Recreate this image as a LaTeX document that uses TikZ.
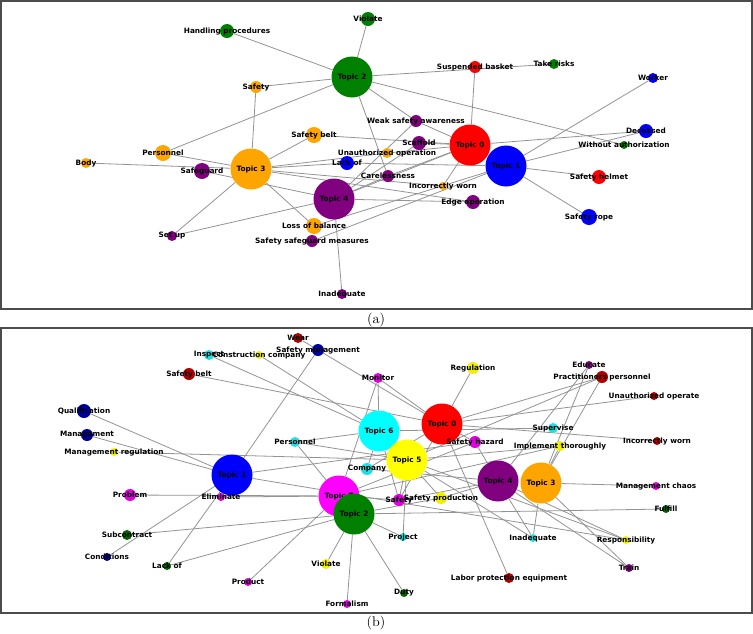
\documentclass[tikz,border=0pt]{standalone}
\usepackage{fontspec}
\setsansfont{DejaVu Sans}
\usetikzlibrary{backgrounds}
\definecolor{tred}{HTML}{FF0000}
\definecolor{tblue}{HTML}{0000FF}
\definecolor{tgreen}{HTML}{008000}
\definecolor{torange}{HTML}{FFA500}
\definecolor{tpurple}{HTML}{800080}
\definecolor{tyellow}{HTML}{FFFF00}
\definecolor{tcyan}{HTML}{00FFFF}
\definecolor{tmag}{HTML}{FF00FF}
\definecolor{dred}{HTML}{B00000}
\definecolor{dblue}{HTML}{0000A0}
\definecolor{dgreen}{HTML}{006400}
\definecolor{dmag}{HTML}{E000E0}
\definecolor{dcyan}{HTML}{20E0E0}
\definecolor{dyellow}{HTML}{F0F000}
\begin{document}
\begin{tikzpicture}[x=0.75pt, y=-0.75pt, every node/.style={circle, inner sep=0pt}, every label/.style={font=\sffamily\bfseries\fontsize{5.5}{6}\selectfont, text=black}, topic/.style={minimum size=30.75pt}, r4/.style={minimum size=6pt}, r5/.style={minimum size=7.5pt}, r6/.style={minimum size=9pt}, r7/.style={minimum size=10.5pt}, r8/.style={minimum size=12pt}, link/.style={draw=gray!85, line width=0.6pt}, frame/.style={draw=black!70, line width=0.9pt}]

		\useasboundingbox (0,0) rectangle (753,633);

		% panel (a)
		\draw[frame] (1,1) rectangle (752,309);

		\node[topic, fill=tgreen, label=center:Topic 2] (a2) at (352,77) {};

		\node[topic, fill=torange, label=center:Topic 3] (a3) at (251,169) {};

		\node[topic, fill=tpurple, label=center:Topic 4] (a4) at (334,199) {};

		\node[topic, fill=tred, label=center:Topic 0] (a0) at (470,145) {};

		\node[topic, fill=tblue, label=center:Topic 1] (a1) at (506,166) {};

		\node[r7, fill=tgreen, label=center:Handling procedures] (a-hp) at (227,31) {};

		\node[r7, fill=tgreen, label=center:Violate] (a-vi) at (368,19) {};

		\node[r6, fill=torange, label=center:Safety] (a-sf) at (256,87) {};

		\node[r8, fill=torange, label=center:Safety belt] (a-sb) at (314,135) {};

		\node[r8, fill=torange, label=center:Personnel] (a-pe) at (163,153) {};

		\node[r6, fill=tred, label=center:Suspended basket] (a-su) at (475,67) {};

		\node[r5, fill=tgreen, label=center:Take risks] (a-tr) at (554,64) {};

		\node[r5, fill=tblue, label=center:Worker] (a-wo) at (653,78) {};

		\node[r6, fill=tpurple, label=center:Weak safety awareness] (a-ws) at (416,121) {};

		\node[r7, fill=tpurple, label=center:Scaffold] (a-sc) at (419,143) {};

		\node[r7, fill=tblue, label=center:Deceased] (a-de) at (646,131) {};

		\node[r4, fill=tgreen, label=center:Without authorization] (a-wa) at (624,145) {};

		\node[r5, fill=torange, label=center:Unauthorized operation] (a-uo) at (387,153) {};

		\node[r5, fill=torange, label=center:Body] (a-bo) at (86,163) {};

		\node[r8, fill=tpurple, label=center:Safeguard] (a-sg) at (202,171) {};

		\node[r7, fill=tblue, label=center:Lack of] (a-lo) at (347,163) {};

		\node[r6, fill=tpurple, label=center:Carelessness] (a-ca) at (388,176) {};

		\node[r4, fill=torange, label=center:Incorrectly worn] (a-iw) at (443,186) {};

		\node[r7, fill=tred, label=center:Safety helmet] (a-sh) at (599,177) {};

		\node[r7, fill=tpurple, label=center:Edge operation] (a-eo) at (473,202) {};

		\node[r8, fill=tblue, label=center:Safety rope] (a-sr) at (589,217) {};

		\node[r8, fill=torange, label=center:Loss of balance] (a-lb) at (314,226) {};

		\node[r5, fill=tpurple, label=center:Set up] (a-se) at (172,236) {};

		\node[r6, fill=tpurple, label=center:Safety safeguard measures] (a-ssm) at (312,241) {};

		\node[r5, fill=tpurple, label=center:Inadequate] (a-in) at (342,294) {};

		\node[font=\fontsize{10.5}{12}\selectfont] (cap-a) at (376,320) {(a)};

		\begin{scope}[on background layer]
		\foreach \w in {a-hp, a-vi, a-sf, a-pe, a-tr, a-wa, a-ws, a-ca}
			\draw[link] (a2) -- (\w);
		\foreach \w in {a-su, a-ws, a-sc, a-de, a-uo, a-sb, a-iw, a-ca, a4}
			\draw[link] (a0) -- (\w);
		\foreach \w in {a-wo, a-de, a-sh, a-sr, a-lo, a-lb, a-ssm}
			\draw[link] (a1) -- (\w);
		\foreach \w in {a-sf, a-pe, a-bo, a-sb, a-uo, a-lo, a-iw, a-eo, a-lb, a-se}
			\draw[link] (a3) -- (\w);
		\foreach \w in {a-sg, a-se, a-ws, a-sc, a-ca, a-eo, a-in}
			\draw[link] (a4) -- (\w);
		\end{scope}

		% panel (b)
		\draw[frame] (1,328) rectangle (752,613);

		\node[topic, fill=tred, label=center:Topic 0] (b0) at (442,424) {};

		\node[topic, fill=tblue, label=center:Topic 1] (b1) at (232,475) {};

		\node[topic, fill=tmag, label=center:Topic 7] (b7) at (339,496) {};

		\node[topic, fill=tgreen, label=center:Topic 2] (b2) at (354,514) {};

		\node[topic, fill=tpurple, label=center:Topic 4] (b4) at (498,481) {};

		\node[topic, fill=torange, label=center:Topic 3] (b3) at (541,483) {};

		\node[topic, fill=tcyan, label=center:Topic 6] (b6) at (379,431) {};

		\node[topic, fill=tyellow, label=center:Topic 5] (b5) at (407,460) {};

		\node[r5, fill=dred, label=center:Wear] (b-we) at (298,338) {};

		\node[r6, fill=dblue, label=center:Safety management] (b-sm) at (318,350) {};

		\node[r5, fill=dcyan, label=center:Inspect] (b-is) at (209,355) {};

		\node[r4, fill=dyellow, label=center:Construction company] (b-cc) at (259,355) {};

		\node[r6, fill=dred, label=center:Safety belt] (b-sb) at (189,374) {};

		\node[r5, fill=dmag, label=center:Monitor] (b-mo) at (378,378) {};

		\node[r6, fill=dyellow, label=center:Regulation] (b-re) at (473,368) {};

		\node[r4, fill=tpurple, label=center:Educate] (b-ed) at (589,365) {};

		\node[r6, fill=dred, label=center:Practitioners personnel] (b-pp) at (602,377) {};

		\node[r4, fill=dred, label=center:Unauthorized operate] (b-ua) at (654,396) {};

		\node[r7, fill=dblue, label=center:Qualification] (b-qu) at (84,411) {};

		\node[r6, fill=dblue, label=center:Management] (b-ma) at (87,435) {};

		\node[r4, fill=dyellow, label=center:Management regulation] (b-mr) at (114,452) {};

		\node[r5, fill=dcyan, label=center:Personnel] (b-pe) at (295,442) {};

		\node[r5, fill=dcyan, label=center:Supervise] (b-sv) at (553,428) {};

		\node[r6, fill=dmag, label=center:Safety hazard] (b-sh) at (475,442) {};

		\node[r5, fill=dyellow, label=center:Implement thoroughly] (b-it) at (560,446) {};

		\node[r4, fill=dred, label=center:Incorrectly worn] (b-iw) at (657,441) {};

		\node[r6, fill=dcyan, label=center:Company] (b-co) at (367,469) {};

		\node[r4, fill=dmag, label=center:Eliminate] (b-el) at (221,497) {};

		\node[r6, fill=dmag, label=center:Problem] (b-pr) at (130,495) {};

		\node[r4, fill=dmag, label=center:Management chaos] (b-mc) at (656,486) {};

		\node[r6, fill=dmag, label=center:Safety] (b-sa) at (399,500) {};

		\node[r6, fill=dyellow, label=center:Safety production] (b-sp) at (441,498) {};

		\node[r4, fill=dgreen, label=center:Fulfill] (b-fu) at (666,509) {};

		\node[r5, fill=dgreen, label=center:Subcontract] (b-sub) at (127,535) {};

		\node[r4, fill=dcyan, label=center:Project] (b-pj) at (403,537) {};

		\node[r4, fill=dcyan, label=center:Inadequate] (b-in) at (533,538) {};

		\node[r4, fill=dyellow, label=center:Responsibility] (b-rs) at (626,540) {};

		\node[r4, fill=dblue, label=center:Conditions] (b-cd) at (107,557) {};

		\node[r4, fill=dgreen, label=center:Lack of] (b-lo) at (167,566) {};

		\node[r5, fill=dyellow, label=center:Violate] (b-vi) at (326,564) {};

		\node[r4, fill=tpurple, label=center:Train] (b-tr) at (629,568) {};

		\node[r4, fill=dmag, label=center:Product] (b-pd) at (248,582) {};

		\node[r5, fill=dred, label=center:Labor protection equipment] (b-lp) at (509,578) {};

		\node[r4, fill=dgreen, label=center:Duty] (b-du) at (404,593) {};

		\node[r4, fill=dmag, label=center:Formalism] (b-fo) at (347,604) {};

		\node[font=\fontsize{10.5}{12}\selectfont] (cap-b) at (376,623) {(b)};

		\begin{scope}[on background layer]
		\foreach \w in {b-we, b-sb, b-mo, b-re, b-pp, b-ua, b-iw, b-sh, b-lp, b-sa, b-co}
			\draw[link] (b0) -- (\w);
		\foreach \w in {b-sm, b-qu, b-ma, b-cd, b-lo, b-el, b-rs, b-sh}
			\draw[link] (b1) -- (\w);
		\foreach \w in {b-sub, b-lo, b-vi, b-fo, b-du, b-pj, b-fu, b-pe, b-sp}
			\draw[link] (b2) -- (\w);
		\foreach \w in {b-ed, b-pp, b-tr, b-mc, b-in, b-it}
			\draw[link] (b3) -- (\w);
		\foreach \w in {b-ed, b-sh, b-in, b-rs, b-tr, b-sa, b-sp, b-co}
			\draw[link] (b4) -- (\w);
		\foreach \w in {b-mr, b-pe, b-sp, b-pj, b-in, b-rs, b-it, b-sa, b-pp}
			\draw[link] (b5) -- (\w);
		\foreach \w in {b-is, b-cc, b-mo, b-pe, b-co, b-sv, b-sa}
			\draw[link] (b6) -- (\w);
		\foreach \w in {b-pr, b-el, b-pd, b-mo, b-sh, b-it, b-sa}
			\draw[link] (b7) -- (\w);
		\end{scope}

	\end{tikzpicture}
\end{document}
